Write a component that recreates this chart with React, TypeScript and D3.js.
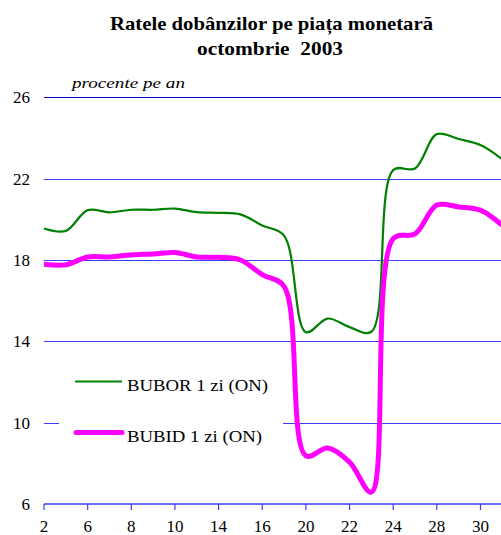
import React from "react";
import * as d3 from "d3";

const days = ["2","3","6","7","8","9","10","13","14","15","16","17","20","21","22","23","24","27","28","29","30","31"];
const bubor = [19.55,19.43,20.45,20.34,20.47,20.47,20.53,20.35,20.32,20.24,19.7,19.2,14.45,15.12,14.7,14.47,22.42,22.5,24.19,23.95,23.65,22.95];
const bubid = [17.79,17.76,18.15,18.15,18.25,18.3,18.37,18.15,18.13,18.0,17.28,16.7,8.37,8.75,8.06,6.58,19.05,19.28,20.7,20.61,20.45,19.7];
const yTicks = [6, 10, 14, 18, 22, 26];
const xTickLabels = ["2","6","8","10","14","16","20","22","24","28","30"];
const seriesNames = ["BUBOR 1 zi (ON)", "BUBID 1 zi (ON)"];

const W = 501, H = 535;
const serif = "'Liberation Serif', 'DejaVu Serif', serif";
const ts: React.CSSProperties = { fontFamily: serif, whiteSpace: "pre" };

export default function App() {
  const x = d3.scalePoint<string>().domain(days).range([44, 502.3]);
  const y = d3.scaleLinear().domain([6, 26]).range([504, 97.3]);
  const curve = d3.curveCatmullRom.alpha(0.5);
  const line = d3.line<number>().x((_, i) => x(days[i]) as number).y(d => y(d)).curve(curve);

  return (
    <svg width={W} height={H} style={{ position: "absolute", left: 0, top: 0 }}>
      <rect width={W} height={H} fill="#fff" />
      <text x={110} y={29.5} fontWeight="bold" fontSize={19.5} style={ts} textLength={323} lengthAdjust="spacingAndGlyphs">Ratele dobânzilor pe piața monetară</text>
      <text x={197} y={55} fontWeight="bold" fontSize={19.5} style={ts} textLength={146} lengthAdjust="spacingAndGlyphs">{"octombrie  2003"}</text>
      <text x={72} y={88} fontStyle="italic" fontSize={15.5} style={ts} textLength={113} lengthAdjust="spacingAndGlyphs">procente pe an</text>

      {yTicks.filter(t => t !== 6).map(t => (
        <line key={t} x1={44} x2={W} y1={Math.round(y(t)) + 0.5} y2={Math.round(y(t)) + 0.5}
          stroke={t === 26 ? "#0000dd" : "#3c3cff"} strokeWidth={1} />
      ))}
      {yTicks.map(t => (
        <text key={t} x={30} y={y(t)} dy="0.36em" textAnchor="end" fontSize={17} style={ts}>{t}</text>
      ))}

      <line x1={44} x2={W} y1={y(6)} y2={y(6)} stroke="#6b6bff" strokeWidth={2} />
      {xTickLabels.map(d => (
        <g key={d}>
          <line x1={x(d)} x2={x(d)} y1={y(6)} y2={y(6) + 6} stroke="#3c3cff" strokeWidth={1.2} />
          <text x={x(d)} y={532} textAnchor="middle" fontSize={17} style={ts}>{d}</text>
        </g>
      ))}

      <rect x={59} y={352} width={224} height={100} fill="#fff" />

      <path d={line(bubor) || ""} fill="none" stroke="#008000" strokeWidth={2.2} />
      <path d={line(bubid) || ""} fill="none" stroke="#ff00ff" strokeWidth={5} strokeLinejoin="round" />

      <line x1={75} x2={122} y1={381.5} y2={381.5} stroke="#008000" strokeWidth={2.2} />
      <text x={127} y={390.5} fontSize={17.5} style={ts} textLength={141} lengthAdjust="spacingAndGlyphs">{seriesNames[0]}</text>
      <line x1={76} x2={122} y1={432.5} y2={432.5} stroke="#ff00ff" strokeWidth={5} strokeLinecap="round" />
      <text x={127} y={442} fontSize={17.5} style={ts} textLength={135} lengthAdjust="spacingAndGlyphs">{seriesNames[1]}</text>
    </svg>
  );
}
